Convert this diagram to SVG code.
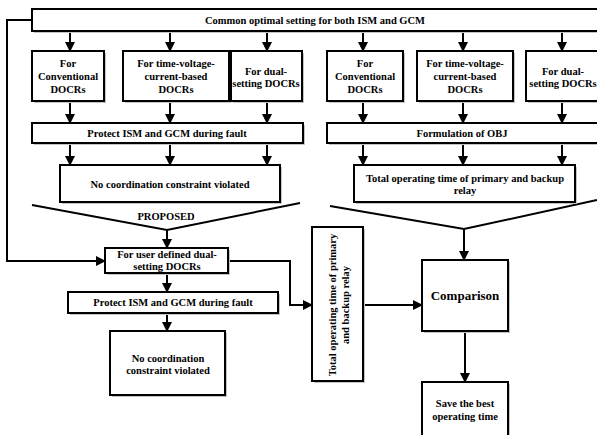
<svg xmlns="http://www.w3.org/2000/svg" width="597" height="435" viewBox="0 0 597 435">
<style>
.box{fill:#fff;stroke:#000;stroke-width:2}
.sh{fill:#c4c4c4}
.t{font-family:"Liberation Serif","Times New Roman",serif;font-weight:bold;font-size:10.5px;text-anchor:middle;fill:#000}
.big{font-size:13px}
.ln{fill:none;stroke:#000;stroke-width:2}
</style>
<defs>
<marker id="ah" markerWidth="10" markerHeight="10" refX="9" refY="5" orient="auto" markerUnits="userSpaceOnUse">
<path d="M0,0 L10,5 L0,10 Z" fill="#000"/>
</marker>
</defs>
<rect width="597" height="435" fill="#fff"/>

<g id="connectors">
<line class="ln" x1="70" y1="31" x2="70" y2="51" marker-end="url(#ah)"/>
<line class="ln" x1="170" y1="31" x2="170" y2="51" marker-end="url(#ah)"/>
<line class="ln" x1="267" y1="31" x2="267" y2="51" marker-end="url(#ah)"/>
<line class="ln" x1="363" y1="31" x2="363" y2="51" marker-end="url(#ah)"/>
<line class="ln" x1="463" y1="31" x2="463" y2="51" marker-end="url(#ah)"/>
<line class="ln" x1="562" y1="31" x2="562" y2="51" marker-end="url(#ah)"/>
<line class="ln" x1="70" y1="101" x2="70" y2="123" marker-end="url(#ah)"/>
<line class="ln" x1="170" y1="101" x2="170" y2="123" marker-end="url(#ah)"/>
<line class="ln" x1="267" y1="101" x2="267" y2="123" marker-end="url(#ah)"/>
<line class="ln" x1="363" y1="101" x2="363" y2="123" marker-end="url(#ah)"/>
<line class="ln" x1="463" y1="101" x2="463" y2="123" marker-end="url(#ah)"/>
<line class="ln" x1="562" y1="101" x2="562" y2="123" marker-end="url(#ah)"/>
<line class="ln" x1="70" y1="143" x2="70" y2="165" marker-end="url(#ah)"/>
<line class="ln" x1="170" y1="143" x2="170" y2="165" marker-end="url(#ah)"/>
<line class="ln" x1="267" y1="143" x2="267" y2="165" marker-end="url(#ah)"/>
<line class="ln" x1="363" y1="143" x2="363" y2="165" marker-end="url(#ah)"/>
<line class="ln" x1="463" y1="143" x2="463" y2="165" marker-end="url(#ah)"/>
<line class="ln" x1="562" y1="143" x2="562" y2="165" marker-end="url(#ah)"/>
<polyline class="ln" points="32,205 167,230 300,203"/>
<line class="ln" x1="167" y1="230" x2="167" y2="248" marker-end="url(#ah)"/>
<polyline class="ln" points="330,206 464,229 597,200"/>
<line class="ln" x1="464" y1="229" x2="464" y2="260" marker-end="url(#ah)"/>
<polyline class="ln" points="32,20 7,20 7,261 105,261" marker-end="url(#ah)"/>
<polyline class="ln" points="228,261 290,261 290,305 312,305" marker-end="url(#ah)"/>
<line class="ln" x1="167" y1="273" x2="167" y2="292" marker-end="url(#ah)"/>
<line class="ln" x1="167" y1="313" x2="167" y2="331" marker-end="url(#ah)"/>
<line class="ln" x1="363" y1="305" x2="422" y2="305" marker-end="url(#ah)"/>
<line class="ln" x1="465" y1="331" x2="465" y2="382" marker-end="url(#ah)"/>
</g>

<g id="common">
<rect class="sh" x="34" y="11" width="566" height="22"/>
<rect class="box" x="32" y="9" width="566" height="22"/>
<text class="t" x="315" y="24">Common optimal setting for both ISM and GCM</text>
</g>

<g id="conv1">
<rect class="sh" x="34" y="53" width="72" height="50"/>
<rect class="box" x="32" y="51" width="72" height="50"/>
<text class="t" x="68" y="67">For</text>
<text class="t" x="68" y="80">Conventional</text>
<text class="t" x="68" y="93">DOCRs</text>
</g>
<g id="tvc1">
<rect class="sh" x="125" y="53" width="106" height="50"/>
<rect class="box" x="123" y="51" width="106" height="50"/>
<text class="t" x="176" y="67">For time-voltage-</text>
<text class="t" x="176" y="80">current-based</text>
<text class="t" x="176" y="93">DOCRs</text>
</g>
<g id="dual1">
<rect class="sh" x="233" y="53" width="71" height="50"/>
<rect class="box" x="231" y="51" width="71" height="50"/>
<text class="t" x="266" y="75">For dual-</text>
<text class="t" x="266" y="87">setting DOCRs</text>
</g>
<g id="conv2">
<rect class="sh" x="329" y="53" width="76" height="50"/>
<rect class="box" x="327" y="51" width="76" height="50"/>
<text class="t" x="365" y="67">For</text>
<text class="t" x="365" y="80">Conventional</text>
<text class="t" x="365" y="93">DOCRs</text>
</g>
<g id="tvc2">
<rect class="sh" x="419" y="53" width="96" height="50"/>
<rect class="box" x="417" y="51" width="96" height="50"/>
<text class="t" x="465" y="67">For time-voltage-</text>
<text class="t" x="465" y="80">current-based</text>
<text class="t" x="465" y="93">DOCRs</text>
</g>
<g id="dual2">
<rect class="sh" x="528" y="53" width="76" height="50"/>
<rect class="box" x="526" y="51" width="76" height="50"/>
<text class="t" x="563" y="75">For dual-</text>
<text class="t" x="563" y="87">setting DOCRs</text>
</g>

<g id="protect1">
<rect class="sh" x="34" y="125" width="271" height="20"/>
<rect class="box" x="32" y="123" width="271" height="20"/>
<text class="t" x="167" y="137">Protect ISM and GCM during fault</text>
</g>
<g id="obj">
<rect class="sh" x="329" y="125" width="272" height="20"/>
<rect class="box" x="327" y="123" width="272" height="20"/>
<text class="t" x="462" y="137">Formulation of OBJ</text>
</g>

<g id="nocoord1">
<rect class="sh" x="62" y="167" width="220" height="37"/>
<rect class="box" x="60" y="165" width="220" height="37"/>
<text class="t" x="170" y="188">No coordination constraint violated</text>
</g>
<g id="total1">
<rect class="sh" x="356" y="167" width="221" height="37"/>
<rect class="box" x="354" y="165" width="221" height="37"/>
<text class="t" x="465" y="182">Total operating time of primary and backup</text>
<text class="t" x="465" y="194">relay</text>
</g>

<g id="proposed">
<text class="t" x="166" y="220">PROPOSED</text>
</g>

<g id="user">
<rect class="sh" x="107" y="250" width="123" height="25"/>
<rect class="box" x="105" y="248" width="123" height="25"/>
<text class="t" x="167" y="258">For user defined dual-</text>
<text class="t" x="167" y="270">setting DOCRs</text>
</g>
<g id="protect2">
<rect class="sh" x="70" y="294" width="210" height="21"/>
<rect class="box" x="68" y="292" width="210" height="21"/>
<text class="t" x="173" y="306">Protect ISM and GCM during fault</text>
</g>
<g id="nocoord2">
<rect class="sh" x="112" y="333" width="115" height="64"/>
<rect class="box" x="110" y="331" width="115" height="64"/>
<text class="t" x="168" y="362">No coordination</text>
<text class="t" x="168" y="374">constraint violated</text>
</g>

<g id="total2">
<rect class="sh" x="314" y="229" width="51" height="154"/>
<rect class="box" x="312" y="227" width="51" height="154"/>
<text class="t" transform="translate(336,305) rotate(-90)">Total operating time of primary</text>
<text class="t" transform="translate(349,305) rotate(-90)">and backup relay</text>
</g>

<g id="comparison">
<rect class="sh" x="424" y="262" width="86" height="71"/>
<rect class="box" x="422" y="260" width="86" height="71"/>
<text class="t big" x="465" y="300">Comparison</text>
</g>
<g id="save">
<rect class="sh" x="424" y="384" width="86" height="60"/>
<rect class="box" x="422" y="382" width="86" height="60"/>
<text class="t" x="465" y="407">Save the best</text>
<text class="t" x="465" y="420">operating time</text>
</g>
</svg>
